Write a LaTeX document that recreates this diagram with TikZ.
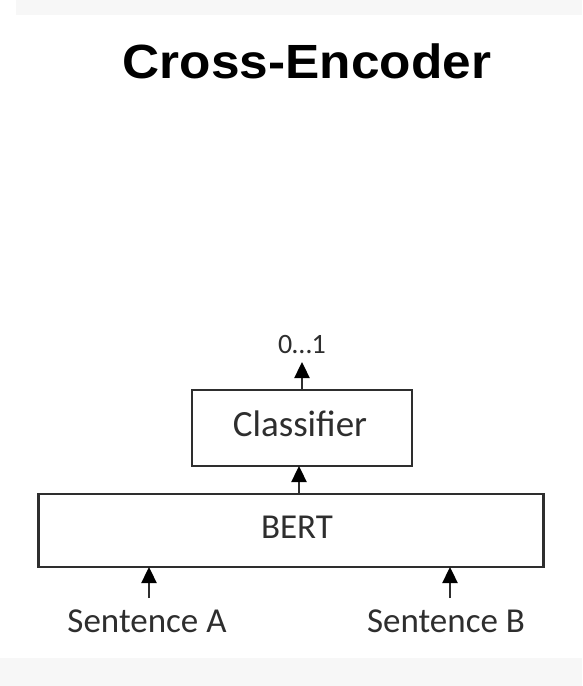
\documentclass[tikz,border=0pt]{standalone}
\usepackage{fontspec}
\setmainfont{Carlito}
\newfontfamily\titlefont{Liberation Sans}
\usetikzlibrary{arrows.meta}
\definecolor{ink}{HTML}{2E2E2E}
\definecolor{band}{HTML}{F7F7F7}
\begin{document}
\begin{tikzpicture}[x=1pt,y=-1pt,
  box/.style={draw=ink,line width=2.4pt,minimum width=#1,inner sep=0pt},
  lbl/.style={text=ink,font=\fontsize{35}{40}\selectfont,inner sep=0pt,anchor=base},
  flow/.style={draw=ink,line width=2.4pt,-{Triangle[length=16pt,width=15pt,fill=black,color=black]}}]
  \useasboundingbox (0,0) rectangle (582,686);
  \fill[white] (0,0) rectangle (582,686);
  \fill[band] (16,0) rectangle (582,15);
  \fill[band] (0,658) rectangle (582,686);

  % title
  \node[inner sep=0pt,anchor=base,xscale=1.07] (title) at (307,78)
    {\titlefont\bfseries\fontsize{48}{52}\selectfont Cross-Encoder};

  % model blocks
  \node[box=220pt,minimum height=76pt] (cls) at (302,428) {};
  \node[lbl,font=\fontsize{37}{42}\selectfont] (clst) at (300,436) {Classifier};
  \node[box=505pt,minimum height=73pt] (bert) at (291,530.5) {};
  \node[lbl] (bertt) at (297,538) {BERT};

  % inputs and output
  \node[lbl] (sa) at (147,632) {Sentence A};
  \node[lbl] (sb) at (446,632) {Sentence B};
  \node[lbl,font=\fontsize{28}{32}\selectfont] (out) at (302,353) {0…1};

  \coordinate (sa-top) at (149,598);
  \coordinate (sb-top) at (450,598);
  \draw[flow] (sa-top) -- (149,567);
  \draw[flow] (sb-top) -- (450,567);
  \draw[flow] (299,493) -- (299,466);
  \draw[flow] (302,390) -- (302,362);
\end{tikzpicture}
\end{document}
